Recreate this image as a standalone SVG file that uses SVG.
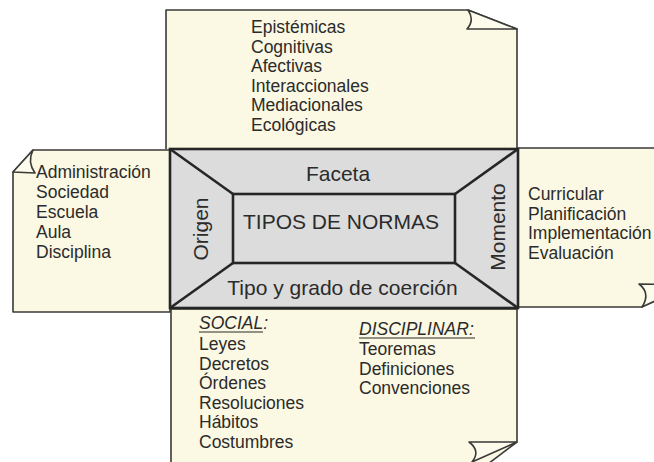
<svg xmlns="http://www.w3.org/2000/svg" width="654" height="462" viewBox="0 0 654 462">
<style>
.box{fill:#fbf8e3;stroke:#3a3a38;stroke-width:1.6;stroke-linejoin:round}
.flap{fill:#fdfbec;stroke:#3a3a38;stroke-width:1.6;stroke-linejoin:round}
.t{font-family:"Liberation Sans",Arial,sans-serif;font-size:17.5px;fill:#2b2b2b}
.c{font-family:"Liberation Sans",Arial,sans-serif;font-size:21px;fill:#2b2b2b;text-anchor:middle}
.core{fill:#dcdcdc;stroke:#262626;stroke-width:2.6}
.ln{stroke:#262626;stroke-width:2.6;fill:none}
.ul{stroke:#2b2b2b;stroke-width:1.1}
</style>
<rect width="654" height="462" fill="#ffffff"/>
<g id="top-box">
<path class="box" d="M166,149 L166,10 L468,10 L517,29 L517,149"/>
<path class="flap" d="M468,10 Q475,20 467,29 L517,29 Z"/>
<text class="t" x="251" y="33">Epistémicas</text>
<text class="t" x="251" y="52.5">Cognitivas</text>
<text class="t" x="251" y="72">Afectivas</text>
<text class="t" x="251" y="91.5">Interaccionales</text>
<text class="t" x="251" y="111">Mediacionales</text>
<text class="t" x="251" y="130.5">Ecológicas</text>
</g>
<g id="left-box">
<path class="box" d="M13,172 L33,150 L170,150 L170,312 L13,312 Z"/>
<path class="flap" d="M33,150 Q27,162 35,173 L13,172 Z"/>
<text class="t" x="36" y="178">Administración</text>
<text class="t" x="36" y="198">Sociedad</text>
<text class="t" x="36" y="218">Escuela</text>
<text class="t" x="36" y="238">Aula</text>
<text class="t" x="36" y="257.5">Disciplina</text>
</g>
<g id="right-box">
<path class="box" d="M518,148 L662,148 L662,289 L642,307 L518,307 Z"/>
<path class="flap" d="M639,284 Q651,293 642,307 L690,285 Z"/>
<text class="t" x="528" y="200">Curricular</text>
<text class="t" x="528" y="219.5">Planificación</text>
<text class="t" x="528" y="239">Implementación</text>
<text class="t" x="528" y="258.5">Evaluación</text>
</g>
<g id="bottom-box">
<path class="box" d="M171,309 L171,470 L480,470 L517,442 L517,309 Z"/>
<path class="flap" d="M517,442 L469,442 Q481,451 472,462 Z"/>
<text class="t" x="199" y="329" font-style="italic">SOCIAL:</text>
<line class="ul" x1="199" y1="332" x2="263" y2="332"/>
<text class="t" x="199" y="350">Leyes</text>
<text class="t" x="199" y="369.5">Decretos</text>
<text class="t" x="199" y="389">Órdenes</text>
<text class="t" x="199" y="408.5">Resoluciones</text>
<text class="t" x="199" y="428">Hábitos</text>
<text class="t" x="199" y="447.5">Costumbres</text>
<text class="t" x="359" y="335" font-style="italic">DISCIPLINAR:</text>
<line class="ul" x1="359" y1="338" x2="475" y2="338"/>
<text class="t" x="359" y="355">Teoremas</text>
<text class="t" x="359" y="374.5">Definiciones</text>
<text class="t" x="359" y="394">Convenciones</text>
</g>
<g id="tipos-de-normas">
<rect class="core" x="170" y="149" width="348" height="159"/>
<rect class="core" x="233" y="194" width="222" height="69"/>
<text class="c" x="338" y="181">Faceta</text>
<text class="c" x="341" y="229">TIPOS DE NORMAS</text>
<text class="c" x="342.5" y="295">Tipo y grado de coerción</text>
<text class="c" transform="translate(208,229) rotate(-90)">Origen</text>
<text class="c" transform="translate(505,227) rotate(-90)">Momento</text>
</g>
<g id="connectors">
<line class="ln" x1="170" y1="149" x2="233" y2="194"/>
<line class="ln" x1="518" y1="149" x2="455" y2="194"/>
<line class="ln" x1="170" y1="308" x2="233" y2="263"/>
<line class="ln" x1="518" y1="308" x2="455" y2="263"/>
</g>
</svg>
